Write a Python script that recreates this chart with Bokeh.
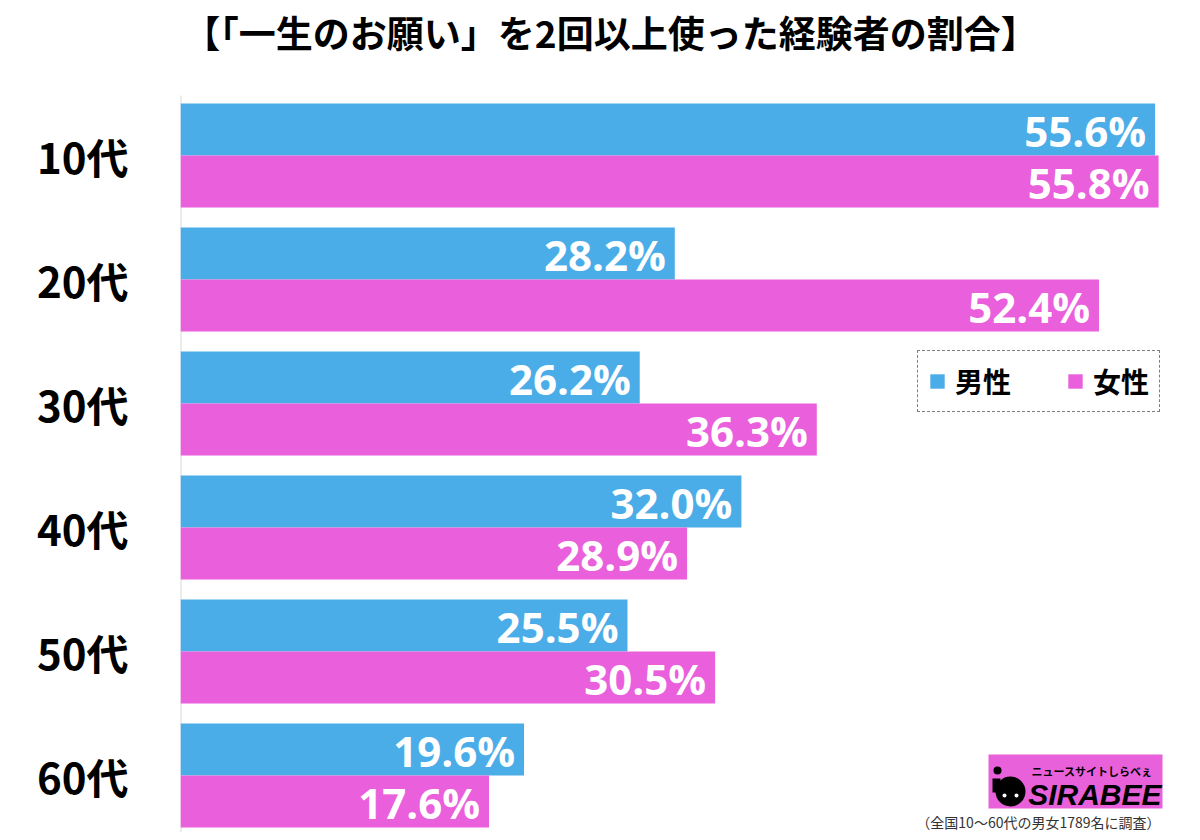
from bokeh.plotting import figure
from bokeh.models import Label, Legend, LegendItem, FixedTicker, Range1d, ColumnDataSource
from bokeh.core.properties import value
from bokeh.embed import file_html
from bokeh.resources import INLINE

# ---------------- data ----------------
categories = ["10代", "20代", "30代", "40代", "50代", "60代"]
male = [55.6, 28.2, 26.2, 32.0, 25.5, 19.6]
female = [55.8, 52.4, 36.3, 28.9, 30.5, 17.6]
series_names = ["男性", "女性"]
title_text = "【「一生のお願い」を2回以上使った経験者の割合】"
note_text = "（全国10〜60代の男女1789名に調査）"
logo_text = "SIRABEE"
logo_sub = "ニュースサイトしらべぇ"

# ---------------- style ----------------
BLUE = "#4BADE8"
PINK = "#EA5FDC"
JP = "Noto Sans CJK JP"

W, H = 1192, 832
FL, FR, FT, FB = 180, 22, 0, 0          # frame borders (figure px)
X_END = 56.48
SY = 124.0                              # px per category
Y_TOP = -0.5 - 93 / SY
Y_BOT = Y_TOP + (H - FT - FB) / SY
SX = (W - FL - FR) / X_END


def dx(px):  # figure px -> data x (decorations only)
    return (px - FL) / SX


def dy(py):
    return Y_TOP + (py - FT) / SY


p = figure(width=W, height=H, x_range=Range1d(0, X_END), y_range=Range1d(Y_BOT, Y_TOP),
           output_backend="svg", toolbar_location=None,
           min_border_left=FL, min_border_right=FR, min_border_top=FT, min_border_bottom=FB)
p.outline_line_color = None
p.xgrid.visible = False
p.ygrid.visible = False
p.xaxis.visible = False
p.background_fill_color = "white"
p.border_fill_color = "white"

idx = list(range(len(categories)))
OFF = 0.21
src = ColumnDataSource(dict(
    ym=[i - OFF for i in idx], yf=[i + OFF for i in idx],
    male=male, female=female,
    ml=[f"{v:.1f}%" for v in male], fl=[f"{v:.1f}%" for v in female],
))

# axis line (drawn below the title area only)
p.segment(x0=[0], y0=[dy(95)], x1=[0], y1=[dy(832)], line_color="#d9d9d9", line_width=2)

rm = p.hbar(y="ym", left=0, right="male", height=0.42, source=src, fill_color=BLUE, line_color=None)
rf = p.hbar(y="yf", left=0, right="female", height=0.42, source=src, fill_color=PINK, line_color=None)

for col, ycol in (("ml", "ym"), ("fl", "yf")):
    xcol = "male" if col == "ml" else "female"
    p.text(x=xcol, y=ycol, text=col, source=src, x_offset=-9, y_offset=1,
           text_align="right", text_baseline="middle", text_color="white",
           text_font=value("Open Sans"), text_font_style="bold", text_font_size="42px")

# y axis (labels only)
yax = p.yaxis[0]
yax.ticker = FixedTicker(ticks=idx)
yax.major_label_overrides = {i: c for i, c in zip(idx, categories)}
yax.major_tick_line_color = None
yax.minor_tick_line_color = None
yax.axis_line_color = None
yax.major_label_standoff = 46
yax.major_label_text_font = JP
yax.major_label_text_font_style = "bold"
yax.major_label_text_font_size = "42px"
yax.major_label_text_color = "black"

# title
p.text(x=[dx(610)], y=[dy(31)], text=[title_text], text_align="center", text_baseline="middle",
       text_color="black", text_font=value(JP), text_font_style="bold", text_font_size="37px")

# legend
legend = Legend(items=[LegendItem(label=series_names[0], renderers=[rm]),
                       LegendItem(label=series_names[1], renderers=[rf])],
                location=(737, 420), orientation="horizontal",
                glyph_width=18, glyph_height=18, label_standoff=9, spacing=55,
                padding=10, margin=0,
                label_text_font=JP, label_text_font_style="bold", label_text_font_size="28px",
                label_text_color="black",
                border_line_color="black", border_line_dash="dotted", border_line_width=1,
                background_fill_color="white", background_fill_alpha=1)
p.add_layout(legend)

# footnote
p.add_layout(Label(x=dx(1160), y=dy(821), text=note_text, text_align="right", text_baseline="middle",
                   text_font=JP, text_font_size="14px", text_color="#333333"))

# logo (decoration)
p.quad(left=[dx(988)], right=[dx(1162)], top=[dy(754)], bottom=[dy(808)], fill_color="#E860DA", line_color=None)
p.text(x=[dx(1161)], y=[dy(794)], text=[logo_text], text_align="right", text_baseline="middle",
       text_color="black", text_font=value("Liberation Sans"), text_font_style="bold italic",
       text_font_size="30px")
p.text(x=[dx(1152)], y=[dy(770)], text=[logo_sub], text_align="right", text_baseline="middle",
       text_color="black", text_font=value(JP), text_font_style="bold", text_font_size="11px")
p.scatter(x=[dx(1010)], y=[dy(791)], size=30, marker="circle", fill_color="black", line_color=None)
p.scatter(x=[dx(997)], y=[dy(770)], size=8, marker="circle", fill_color="black", line_color=None)
p.segment(x0=[dx(996)], y0=[dy(778)], x1=[dx(996)], y1=[dy(792)], line_color="black", line_width=8)
p.scatter(x=[dx(1004), dx(1016)], y=[dy(795), dy(795)], size=4, marker="circle", fill_color="white", line_color=None)

open("out.html", "w").write(file_html(p, INLINE))
